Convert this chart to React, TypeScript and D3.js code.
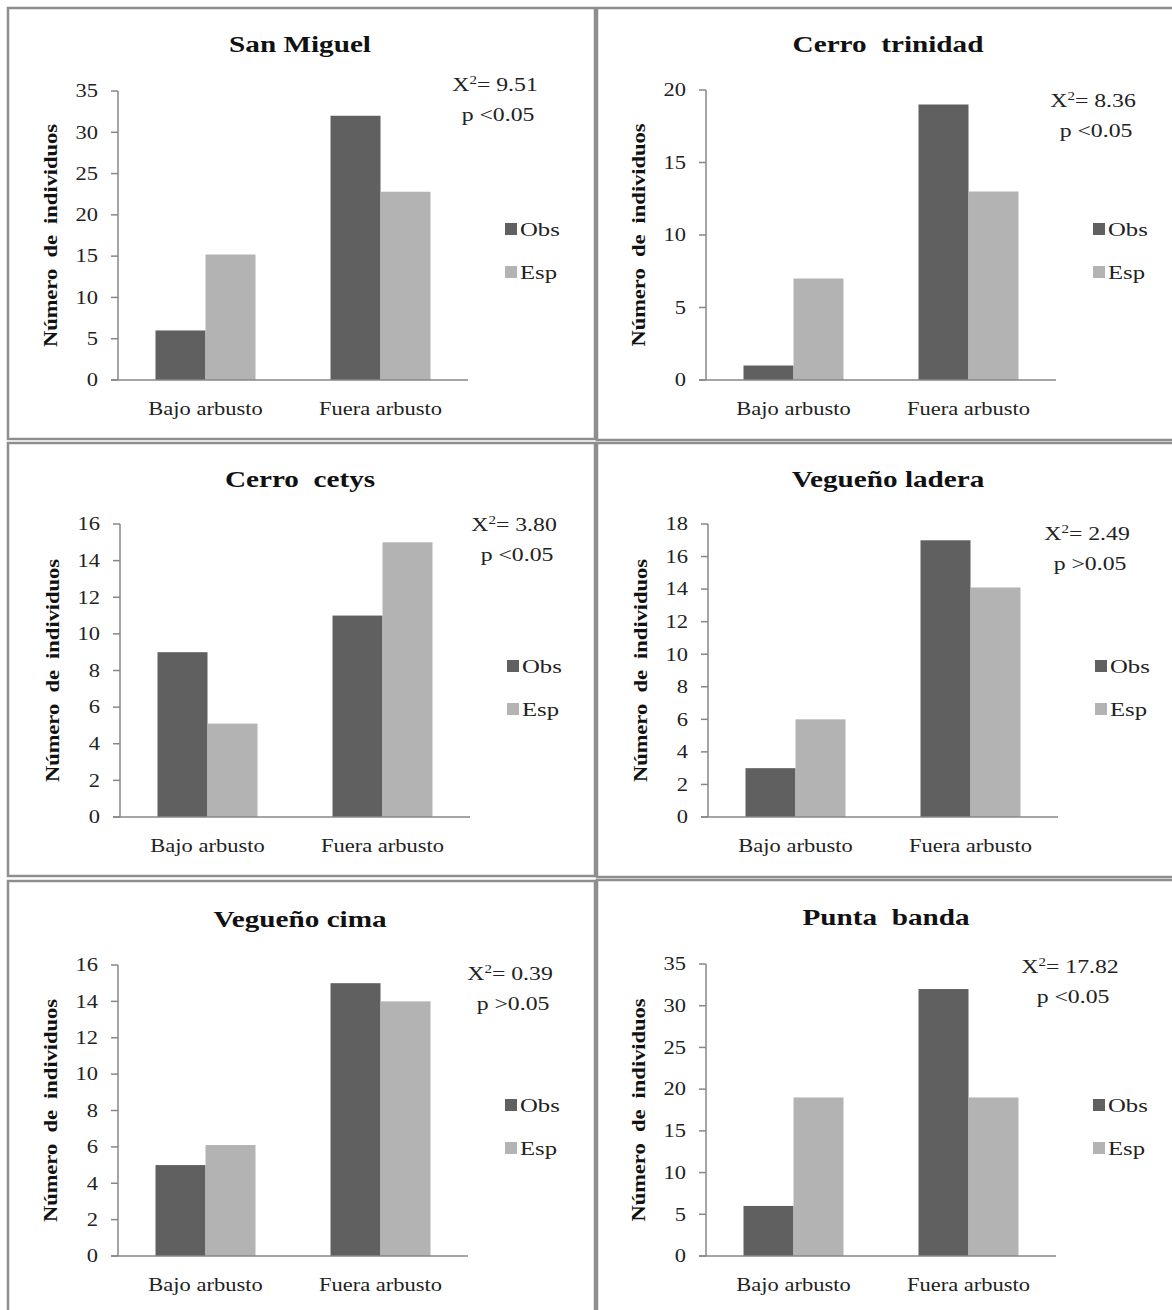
import React from "react";
import * as d3 from "d3";

// datos
const titles = ["San Miguel", "Cerro  trinidad", "Cerro  cetys", "Vegueño ladera", "Vegueño cima", "Punta  banda"];
const categories = ["Bajo arbusto", "Fuera arbusto"];
const series = ["Obs", "Esp"];
const obsValues = [[6, 32], [1, 19], [9, 11], [3, 17], [5, 15], [6, 32]];
const espValues = [[15.2, 22.8], [7, 13], [5.1, 15], [6, 14.1], [6.1, 14], [19, 19]];
const yMaxes = [35, 20, 16, 18, 16, 35];
const yTickSteps = [5, 5, 2, 2, 2, 5];
const chiValues = ["9.51", "8.36", "3.80", "2.49", "0.39", "17.82"];
const pLabels = ["p <0.05", "p <0.05", "p <0.05", "p >0.05", "p >0.05", "p <0.05"];

const colors = ["#606060", "#b3b3b3"];
const FONT = "'Liberation Serif', 'Times New Roman', serif";
const STRETCH = 1.25; // el texto del original es más ancho que Times

// posiciones de cada panel
const layout = [
  { box: [8, 8, 595, 439], ax: [118, 468, 91, 380], title: [300, 52], stat: [495, 84], leg: [505, 229] },
  { box: [597, 8, 1180, 440], ax: [706, 1056, 90, 380], title: [888, 52], stat: [1093, 100], leg: [1093, 229] },
  { box: [8, 443, 595, 876], ax: [120, 470, 524, 817], title: [300, 487], stat: [514, 524], leg: [507, 666] },
  { box: [597, 443, 1180, 877], ax: [708, 1058, 524, 817], title: [888, 487], stat: [1087, 533], leg: [1095, 666] },
  { box: [8, 881, 595, 1320], ax: [118, 468, 965, 1256], title: [300, 927], stat: [510, 973], leg: [505, 1105] },
  { box: [597, 880, 1180, 1320], ax: [706, 1056, 964, 1256], title: [886, 925], stat: [1070, 966], leg: [1093, 1105] },
];

type TProps = {
  x: number;
  y: number;
  rotate?: number;
  sx?: number;
  anchor?: "start" | "middle" | "end";
  size: number;
  bold?: boolean;
  dy?: string;
  children: React.ReactNode;
};

const T: React.FC<TProps> = ({ x, y, rotate = 0, sx = STRETCH, anchor = "start", size, bold, dy = "0.35em", children }) => (
  <g transform={`translate(${x},${y}) rotate(${rotate}) scale(${sx},1)`}>
    <text
      textAnchor={anchor}
      dy={dy}
      fontFamily={FONT}
      fontWeight={bold ? "bold" : "normal"}
      fontSize={size}
      fill={bold ? "#111" : "#222"}
      style={{ whiteSpace: "pre" }}
    >
      {children}
    </text>
  </g>
);

const Panel: React.FC<{ i: number }> = ({ i }) => {
  const L = layout[i];
  const [x0, x1, yTop, yBottom] = L.ax;
  const x = d3.scaleBand<string>().domain(categories).range([x0, x1]).paddingInner(0.4286).paddingOuter(0.2143);
  const xs = d3.scaleBand<string>().domain(series).range([0, x.bandwidth()]);
  const y = d3.scaleLinear().domain([0, yMaxes[i]]).range([yBottom, yTop]);
  const ticks = d3.range(0, yMaxes[i] + 0.001, yTickSteps[i]);
  const vals = [obsValues[i], espValues[i]];
  const [bx0, by0, bx1, by1] = L.box;
  const axisColor = "#878787";

  return (
    <g>
      <rect x={bx0} y={by0} width={bx1 - bx0} height={by1 - by0} fill="white" stroke="#8e8e8e" strokeWidth={2.5} />
      <T x={L.title[0]} y={L.title[1]} anchor="middle" size={23} bold dy="0" sx={1.27}>
        {titles[i]}
      </T>
      {categories.map((c, ci) =>
        series.map((s, si) => (
          <rect
            key={c + s}
            x={(x(c) ?? 0) + (xs(s) ?? 0)}
            y={y(vals[si][ci])}
            width={xs.bandwidth()}
            height={yBottom - y(vals[si][ci])}
            fill={colors[si]}
          />
        ))
      )}
      <line x1={x0} x2={x0} y1={yTop} y2={yBottom} stroke={axisColor} strokeWidth={1.5} />
      <line x1={x0 - 7} x2={x1} y1={yBottom} y2={yBottom} stroke={axisColor} strokeWidth={1.5} />
      {ticks.map((t) => (
        <g key={t}>
          <line x1={x0 - 7} x2={x0} y1={y(t)} y2={y(t)} stroke={axisColor} strokeWidth={1.5} />
          <T x={x0 - 20} y={y(t)} anchor="end" size={18}>
            {t}
          </T>
        </g>
      ))}
      {categories.map((c) => (
        <T key={c} x={(x(c) ?? 0) + x.bandwidth() / 2} y={yBottom + 29} anchor="middle" size={18}>
          {c}
        </T>
      ))}
      <T x={x0 - 67} y={(yTop + yBottom) / 2} rotate={-90} anchor="middle" size={18} bold>
        {"Número  de  individuos"}
      </T>
      <T x={L.stat[0]} y={L.stat[1]} anchor="middle" size={19}>
        X<tspan fontSize={12} dy="-7">2</tspan>
        <tspan dy="7">= {chiValues[i]}</tspan>
      </T>
      <T x={L.stat[0] + 3} y={L.stat[1] + 30} anchor="middle" size={19}>
        {pLabels[i]}
      </T>
      {series.map((s, si) => (
        <g key={s}>
          <rect x={L.leg[0]} y={L.leg[1] + si * 43 - 6} width={12} height={12} fill={colors[si]} />
          <T x={L.leg[0] + 15} y={L.leg[1] + si * 43} size={19} sx={1.3}>
            {s}
          </T>
        </g>
      ))}
    </g>
  );
};

export default function App() {
  return (
    <svg width={1172} height={1310} style={{ display: "block", position: "absolute", left: 0, top: 0 }}>
      <rect width={1172} height={1310} fill="white" />
      {layout.map((_, i) => (
        <Panel key={i} i={i} />
      ))}
    </svg>
  );
}
